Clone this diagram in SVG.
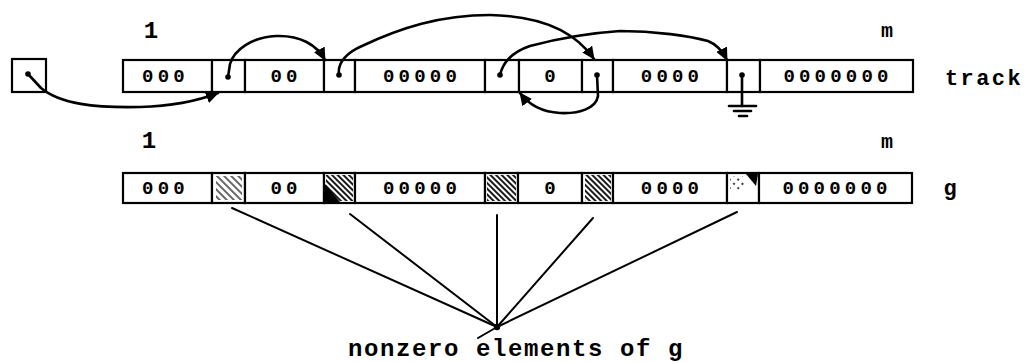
<svg xmlns="http://www.w3.org/2000/svg" width="1026" height="362" viewBox="0 0 1026 362">
<style>
.cell{fill:#fff;stroke:#000;stroke-width:2.2}
.z{font-family:"Liberation Mono","DejaVu Sans Mono",monospace;font-size:19px;font-weight:bold;letter-spacing:4.2px;fill:#000}
.lbl{font-family:"Liberation Mono","DejaVu Sans Mono",monospace;font-weight:bold;fill:#000}
.cv{fill:none;stroke:#000;stroke-width:2.6;stroke-linecap:round;stroke-linejoin:round}
.fan{fill:none;stroke:#000;stroke-width:2;stroke-linecap:round}
.dot{fill:#000}
</style>
<defs>
<marker id="ah" markerUnits="userSpaceOnUse" markerWidth="14" markerHeight="12" refX="12" refY="6" orient="auto">
<path d="M0,0 L13,6 L0,12 z" fill="#000"/>
</marker>
<pattern id="h1" patternUnits="userSpaceOnUse" width="5" height="5" patternTransform="rotate(45)">
<line x1="0" y1="1" x2="5" y2="1" stroke="#000" stroke-width="1.2"/>
</pattern>
<pattern id="h2" patternUnits="userSpaceOnUse" width="4" height="4" patternTransform="rotate(45)">
<line x1="0" y1="1" x2="4" y2="1" stroke="#000" stroke-width="1.8"/>
</pattern>
<pattern id="h3" patternUnits="userSpaceOnUse" width="6" height="6" patternTransform="rotate(45)">
<line x1="0" y1="1" x2="2" y2="1" stroke="#000" stroke-width="1.5"/>
</pattern>
</defs>

<!-- left pointer box -->
<g id="head">
<rect class="cell" x="12" y="59" width="34" height="33"/>
<circle class="dot" cx="28" cy="74" r="2.8"/>
</g>

<!-- track row -->
<g id="track-row">
<g id="t1"><rect class="cell" x="123" y="60" width="89" height="32"/><text class="z" x="165.5" y="82" text-anchor="middle">000</text></g>
<g id="tp1"><rect class="cell" x="212" y="60" width="33" height="32"/><circle class="dot" cx="228" cy="77" r="2.8"/></g>
<g id="t2"><rect class="cell" x="245" y="60" width="79" height="32"/><text class="z" x="286" y="82" text-anchor="middle">00</text></g>
<g id="tp2"><rect class="cell" x="324" y="60" width="31" height="32"/><circle class="dot" cx="339" cy="75" r="2.8"/></g>
<g id="t3"><rect class="cell" x="355" y="60" width="130" height="32"/><text class="z" x="422" y="82" text-anchor="middle">00000</text></g>
<g id="tp3"><rect class="cell" x="485" y="60" width="34" height="32"/><circle class="dot" cx="500" cy="75" r="2.8"/></g>
<g id="t4"><rect class="cell" x="519" y="60" width="63" height="32"/><text class="z" x="552" y="82" text-anchor="middle">0</text></g>
<g id="tp4"><rect class="cell" x="582" y="60" width="31" height="32"/><circle class="dot" cx="597" cy="75" r="2.8"/></g>
<g id="t5"><rect class="cell" x="613" y="60" width="114" height="32"/><text class="z" x="672" y="82" text-anchor="middle">0000</text></g>
<g id="tp5"><rect class="cell" x="727" y="60" width="33" height="32"/><circle class="dot" cx="742" cy="75" r="2.8"/></g>
<g id="t6"><rect class="cell" x="760" y="60" width="153" height="32"/><text class="z" x="838" y="82" text-anchor="middle">0000000</text></g>
</g>

<!-- g row -->
<g id="g-row">
<g id="g1"><rect class="cell" x="123" y="173" width="89" height="30"/><text class="z" x="165.5" y="194" text-anchor="middle">000</text></g>
<g id="gp1"><rect class="cell" x="212" y="173" width="33" height="30"/><rect x="216" y="176" width="26" height="24" fill="url(#h1)"/></g>
<g id="g2"><rect class="cell" x="245" y="173" width="79" height="30"/><text class="z" x="286" y="194" text-anchor="middle">00</text></g>
<g id="gp2"><rect class="cell" x="324" y="173" width="31" height="30"/><rect x="326" y="175" width="27" height="26" fill="url(#h2)"/><path d="M325,184 L325,202 L340,202 z" fill="#000"/></g>
<g id="g3"><rect class="cell" x="355" y="173" width="130" height="30"/><text class="z" x="422" y="194" text-anchor="middle">00000</text></g>
<g id="gp3"><rect class="cell" x="485" y="173" width="33" height="30"/><rect x="487" y="175" width="29" height="26" fill="url(#h2)"/></g>
<g id="g4"><rect class="cell" x="518" y="173" width="64" height="30"/><text class="z" x="552" y="194" text-anchor="middle">0</text></g>
<g id="gp4"><rect class="cell" x="582" y="173" width="31" height="30"/><rect x="585" y="175" width="26" height="26" fill="url(#h2)"/></g>
<g id="g5"><rect class="cell" x="613" y="173" width="114" height="30"/><text class="z" x="672" y="194" text-anchor="middle">0000</text></g>
<g id="gp5"><rect class="cell" x="727" y="173" width="32" height="30"/><rect x="730" y="176" width="14" height="14" fill="url(#h3)"/><path d="M746,174 L758,174 L756,186 z" fill="#000"/></g>
<g id="g6"><rect class="cell" x="759" y="173" width="153" height="30"/><text class="z" x="837" y="194" text-anchor="middle">0000000</text></g>
</g>

<!-- labels -->
<g id="labels">
<text class="lbl" x="151" y="38" font-size="24" text-anchor="middle">1</text>
<text class="lbl" x="887" y="37" font-size="20" text-anchor="middle">m</text>
<text class="lbl" x="945" y="85" font-size="22" letter-spacing="2.4">track</text>
<text class="lbl" x="149" y="148" font-size="24" text-anchor="middle">1</text>
<text class="lbl" x="887" y="148" font-size="20" text-anchor="middle">m</text>
<text class="lbl" x="950" y="195" font-size="22" text-anchor="middle">g</text>
<text class="lbl" x="348" y="356" font-size="24" letter-spacing="1.6">nonzero elements of g</text>
</g>

<!-- connectors -->
<g id="connectors">
<path class="cv" d="M28,74 L41,88 C60,104 95,108 140,107 C175,106 200,100 218,93" marker-end="url(#ah)"/>
<path class="cv" d="M228,77 L230,64 C234,50 252,37 276,36 C300,35 317,45 325,60" marker-end="url(#ah)"/>
<path class="cv" d="M339,75 C337,62 348,52 362,46 C400,28 440,15 490,15 C540,16 574,30 594,59" marker-end="url(#ah)"/>
<path class="cv" d="M500,75 C503,62 512,52 530,46 C560,38 590,33 620,31 C655,31 690,36 708,41 C718,45 723,52 727,60" marker-end="url(#ah)"/>
<path class="cv" d="M597,75 L598,96 C596,108 580,114 560,113 C542,112 529,105 520,93" marker-end="url(#ah)"/>
<g id="ground">
<line class="cv" x1="742" y1="75" x2="742" y2="106"/>
<line class="cv" x1="729" y1="106" x2="756" y2="106"/>
<line class="cv" x1="734" y1="111" x2="751" y2="111"/>
<line class="cv" x1="739" y1="116" x2="747" y2="116"/>
</g>
<g id="fan">
<line class="fan" x1="232" y1="208" x2="497" y2="327"/>
<line class="fan" x1="350" y1="214" x2="497" y2="327"/>
<line class="fan" x1="497" y1="215" x2="497" y2="327"/>
<line class="fan" x1="593" y1="218" x2="497" y2="327"/>
<line class="fan" x1="737" y1="212" x2="497" y2="327"/>
<line class="fan" x1="497" y1="327" x2="478" y2="338"/>
<circle class="dot" cx="497" cy="327" r="3.2"/>
</g>
</g>
</svg>
